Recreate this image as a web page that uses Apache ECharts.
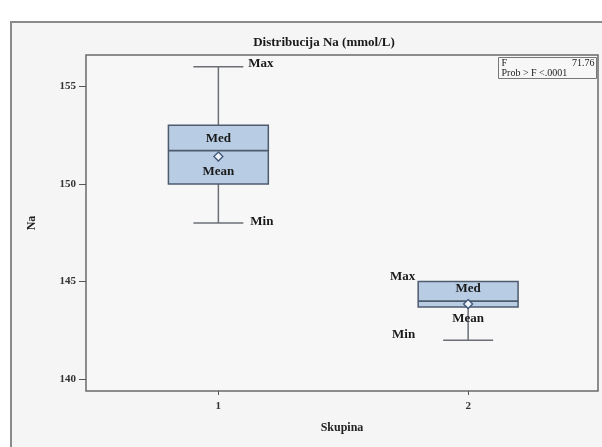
<!DOCTYPE html>
<html>
<head>
<meta charset="utf-8">
<script src="https://cdn.jsdelivr.net/npm/echarts@6/dist/echarts.min.js"></script>
<style>
  html, body { margin: 0; padding: 0; background: #ffffff; }
  #chart { width: 602px; height: 447px; }
</style>
</head>
<body>
<div id="chart"></div>
<script>
// Group positions on the x axis and their summary statistics (Na, mmol/L)
const groups = [1, 2];
const minVals = [148, 142];
const q1Vals = [150, 143.7];
const medianVals = [151.7, 144.0];
const q3Vals = [153, 145];
const maxVals = [156, 145];
const meanVals = [151.4, 143.85];
const yTicks = [140, 145, 150, 155];
const statF = '71.76';
const statP = '<.0001';

const serif = '"Liberation Serif", "DejaVu Serif", serif';
const boxData = groups.map((g, i) => [g, minVals[i], q1Vals[i], medianVals[i], q3Vals[i], maxVals[i], meanVals[i]]);

function renderBox(params, api) {
  const x = api.value(0);
  const pMin = api.coord([x, api.value(1)]);
  const pQ1 = api.coord([x, api.value(2)]);
  const pMed = api.coord([x, api.value(3)]);
  const pQ3 = api.coord([x, api.value(4)]);
  const pMax = api.coord([x, api.value(5)]);
  const pMean = api.coord([x, api.value(6)]);
  const half = api.size([0.4, 0])[0] / 2;
  const cap = api.size([0.2, 0])[0] / 2;
  const cx = pQ1[0];
  const lineStyle = { stroke: '#6b6f75', lineWidth: 1.5 };
  const boxStroke = '#4d5b6d';
  const lab = { fontFamily: serif, fontWeight: 'bold', fontSize: 13, fill: '#1a1a1a' };
  const children = [];
  // whiskers
  if (pMax[1] < pQ3[1]) {
    children.push({ type: 'line', shape: { x1: cx, y1: pQ3[1], x2: cx, y2: pMax[1] }, style: lineStyle });
    children.push({ type: 'line', shape: { x1: cx - cap, y1: pMax[1], x2: cx + cap, y2: pMax[1] }, style: lineStyle });
  }
  children.push({ type: 'line', shape: { x1: cx, y1: pQ1[1], x2: cx, y2: pMin[1] }, style: lineStyle });
  children.push({ type: 'line', shape: { x1: cx - cap, y1: pMin[1], x2: cx + cap, y2: pMin[1] }, style: lineStyle });
  // box
  children.push({ type: 'rect', shape: { x: cx - half, y: pQ3[1], width: half * 2, height: pQ1[1] - pQ3[1] },
    style: { fill: '#b8cde4', stroke: boxStroke, lineWidth: 1.5 } });
  children.push({ type: 'line', shape: { x1: cx - half, y1: pMed[1], x2: cx + half, y2: pMed[1] },
    style: { stroke: boxStroke, lineWidth: 1.8 } });
  // mean diamond
  const d = 4.5;
  children.push({ type: 'polygon', shape: { points: [[cx, pMean[1] - d], [cx + d, pMean[1]], [cx, pMean[1] + d], [cx - d, pMean[1]]] },
    style: { fill: '#eef3fa', stroke: '#3e5478', lineWidth: 1.3 } });
  // labels inside / around the box
  children.push({ type: 'text', x: cx, y: pMed[1] - 12, style: Object.assign({ text: 'Med', align: 'center', verticalAlign: 'middle' }, lab) });
  children.push({ type: 'text', x: cx, y: pMean[1] + 15, style: Object.assign({ text: 'Mean', align: 'center', verticalAlign: 'middle' }, lab) });
  if (params.dataIndex === 0) {
    children.push({ type: 'text', x: cx + cap + 5, y: pMax[1] - 3, style: Object.assign({ text: 'Max', align: 'left', verticalAlign: 'middle' }, lab) });
    children.push({ type: 'text', x: cx + cap + 7, y: pMin[1] - 1, style: Object.assign({ text: 'Min', align: 'left', verticalAlign: 'middle' }, lab) });
  } else {
    children.push({ type: 'text', x: cx - half - 3, y: pMax[1] - 5, style: Object.assign({ text: 'Max', align: 'right', verticalAlign: 'middle' }, lab) });
    children.push({ type: 'text', x: cx - half - 3, y: pMin[1] - 6, style: Object.assign({ text: 'Min', align: 'right', verticalAlign: 'middle' }, lab) });
  }
  return { type: 'group', children: children };
}

const chart = echarts.init(document.getElementById('chart'), null, { renderer: 'canvas' });
chart.setOption({
  backgroundColor: '#ffffff',
  animation: false,
  graphic: [
    { type: 'rect', z: -10, shape: { x: 11, y: 22, width: 620, height: 450 },
      style: { fill: '#f5f5f5', stroke: '#8a8a8a', lineWidth: 2 } },
    { type: 'group', left: 498, top: 57, z: 10, children: [
      { type: 'rect', shape: { x: 0, y: 0, width: 98, height: 21 }, style: { fill: '#f7f7f7', stroke: '#777', lineWidth: 1 } },
      { type: 'text', x: 3, y: 6, style: { text: 'F', fontFamily: serif, fontSize: 10, fill: '#222', verticalAlign: 'middle' } },
      { type: 'text', x: 96, y: 6, style: { text: statF, fontFamily: serif, fontSize: 10, fill: '#222', align: 'right', verticalAlign: 'middle' } },
      { type: 'text', x: 3, y: 15.5, style: { text: 'Prob > F ' + statP, fontFamily: serif, fontSize: 10, fill: '#222', verticalAlign: 'middle' } }
    ] }
  ],
  title: {
    text: 'Distribucija Na (mmol/L)',
    left: 319, top: 31, textAlign: 'center',
    textStyle: { fontFamily: serif, fontWeight: 'bold', fontSize: 13, color: '#1a1a1a' }
  },
  grid: {
    left: 86, top: 55, right: 4, bottom: 56,
    show: true, backgroundColor: '#f7f7f7', borderColor: '#6a6a6a', borderWidth: 1.5
  },
  xAxis: {
    type: 'value', min: 0.47, max: 2.52,
    name: 'Skupina', nameLocation: 'middle', nameGap: 31,
    nameTextStyle: { fontFamily: serif, fontWeight: 'bold', fontSize: 12, color: '#222' },
    axisLine: { show: false },
    splitLine: { show: false },
    axisTick: { show: true, customValues: groups, length: 4, lineStyle: { color: '#555' } },
    axisLabel: { customValues: groups, fontFamily: serif, fontWeight: 'bold', fontSize: 11, color: '#333', margin: 10 }
  },
  yAxis: {
    type: 'value', min: 139.4, max: 156.6,
    name: 'Na', nameLocation: 'middle', nameGap: 48, nameRotate: 90,
    nameTextStyle: { fontFamily: serif, fontWeight: 'bold', fontSize: 12, color: '#222' },
    axisLine: { show: false },
    splitLine: { show: false },
    axisTick: { show: true, customValues: yTicks, length: 7, lineStyle: { color: '#555' } },
    axisLabel: { customValues: yTicks, fontFamily: serif, fontWeight: 'bold', fontSize: 11, color: '#333', margin: 10 }
  },
  series: [{
    type: 'custom',
    renderItem: renderBox,
    encode: { x: 0, y: [1, 2, 3, 4, 5, 6] },
    data: boxData,
    clip: false
  }]
});
</script>
</body>
</html>
